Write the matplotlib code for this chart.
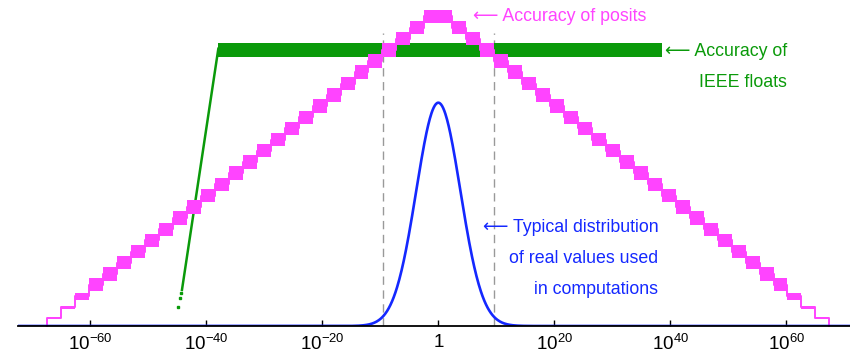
import numpy as np
import matplotlib.pyplot as plt
from matplotlib import font_manager

# posit accuracy: one band per regime step away from 1 (m = 0 is the plateau)
regime_width = 2.408  # decades per regime (useed = 256)
posit_top = [8.50, 8.20, 7.90, 7.60, 7.30, 7.00, 6.69, 6.39, 6.09, 5.79,
             5.49, 5.19, 4.89, 4.59, 4.29, 3.99, 3.68, 3.38, 3.08, 2.78,
             2.48, 2.18, 1.88, 1.58, 1.28, 0.90, 0.55, 0.25]
posit_bot = [8.14, 7.84, 7.54, 7.24, 6.94, 6.64, 6.33, 6.03, 5.73, 5.43,
             5.13, 4.83, 4.53, 4.23, 3.93, 3.63, 3.32, 3.02, 2.72, 2.42,
             2.12, 1.82, 1.52, 1.22, 0.93, 0.70, 0.46, 0.19]

# IEEE 32-bit float accuracy
float_x = [-37.93, 38.53]
float_lo = [7.22, 7.22]
float_hi = [7.61, 7.61]
subnorm_x = [-37.93, -44.2]
subnorm_y = [7.45, 0.97]
subnorm_dot_x = [-44.45, -44.6, -44.85]
subnorm_dot_y = [0.89, 0.75, 0.51]

# distribution of values (log10 scale)
dist_mu = 0.0
dist_sigma = 3.8
dist_peak = 6.0

dash_x = [-9.6, 9.6]
dash_top = 7.88

tick_pos = [-60, -40, -20, 0, 20, 40, 60]
tick_lab = [r"$10^{-60}$", r"$10^{-40}$", r"$10^{-20}$", "1",
            r"$10^{20}$", r"$10^{40}$", r"$10^{60}$"]

PINK = "#ff44ff"
GREEN = "#0a9a0a"
BLUE = "#1428ff"

# pick a narrow sans if one is installed, text size depends on it
installed = {f.name for f in font_manager.fontManager.ttflist}
label_font, label_size = "Liberation Sans", 12.8
for name, size in [("Liberation Sans Narrow", 15.5),
                   ("Nimbus Sans Narrow", 15.5),
                   ("DejaVu Sans Condensed", 14)]:
    if name in installed:
        label_font, label_size = name, size
        break

plt.rcParams["font.family"] = ["Liberation Sans", "DejaVu Sans"]
plt.rcParams["mathtext.fontset"] = "custom"
plt.rcParams["mathtext.rm"] = "Liberation Sans"
plt.rcParams["mathtext.it"] = "Liberation Sans:italic"

fig = plt.figure(figsize=(8.5, 3.58), dpi=100)
W, H = 850, 358
ax = fig.add_axes([18 / W, 32 / H, 832 / W, 326 / H])
ax.set_xlim(-72.47, 70.98)
ax.set_ylim(0, 8.76)

# build posit staircase from the regime bands
n = len(posit_top)
edges = [-(m + 1) * regime_width for m in range(n - 1, -1, -1)]
edges += [m * regime_width for m in range(1, n + 1)]
edges = np.array(edges)
tops = np.array(posit_top[:0:-1] + posit_top + [posit_top[-1]])
bots = np.array(posit_bot[:0:-1] + posit_bot + [posit_bot[-1]])
mids = (tops + bots) / 2
ax.fill_between(edges, bots, tops, step="post", color=PINK, lw=0, zorder=3)
px = np.concatenate([[edges[0]], edges])
py = np.concatenate([[0], mids[:-1], [0]])
ax.plot(px, py, drawstyle="steps-post", color=PINK, lw=1.4, zorder=3,
        clip_on=False)

# floats
ax.fill_between(float_x, float_lo, float_hi, color=GREEN, lw=0, zorder=2)
ax.plot(subnorm_x, subnorm_y, color=GREEN, lw=1.8, zorder=2)
ax.plot(subnorm_dot_x, subnorm_dot_y, ls="none", marker="s", ms=2,
        color=GREEN, zorder=2)

# distribution
xs = np.linspace(-72.47, 70.98, 1500)
ax.plot(xs, dist_peak * np.exp(-0.5 * ((xs - dist_mu) / dist_sigma) ** 2),
        color=BLUE, lw=1.9, zorder=4)

for x in dash_x:
    ax.plot([x, x], [0, dash_top], color="#999999", lw=1.0,
            dashes=(6, 4), zorder=1)

for s in ["top", "right", "left"]:
    ax.spines[s].set_visible(False)
ax.spines["bottom"].set_linewidth(1.3)
ax.spines["bottom"].set_zorder(5)
ax.set_yticks([])
ax.set_xticks(tick_pos)
ax.set_xticklabels(tick_lab)
ax.tick_params(axis="x", direction="in", length=4, width=1, labelsize=13.5,
               pad=6)

fam = [label_font, "Liberation Sans", "DejaVu Sans"]
ARROW = "\u27f5 "
ax.text(5.98, 8.31, ARROW + "Accuracy of posits", color=PINK,
        fontsize=label_size, family=fam, ha="left", va="center")
ax.text(60.1, 6.96, ARROW + "Accuracy of\nIEEE floats", color=GREEN,
        fontsize=label_size, family=fam, ha="right", va="center",
        multialignment="right", linespacing=2.05)
ax.text(37.9, 1.81, ARROW + "Typical distribution\nof real values used\nin computations",
        color=BLUE, fontsize=label_size, family=fam, ha="right",
        va="center", multialignment="right", linespacing=2.1)

fig.savefig("out.png", dpi=100)
